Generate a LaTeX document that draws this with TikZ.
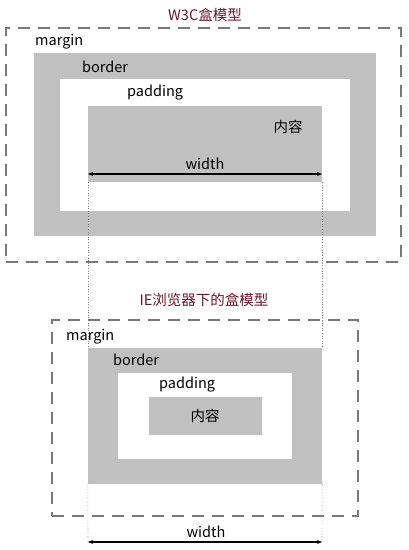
\documentclass[tikz,border=0pt]{standalone}
\usepackage{fontspec}
\setmainfont{Noto Sans CJK SC}
\usetikzlibrary{arrows.meta,fit}
\definecolor{boxgray}{RGB}{192,192,192}
\definecolor{dashgray}{RGB}{120,120,120}
\definecolor{titlered}{RGB}{110,20,40}
\begin{document}
\begin{tikzpicture}[x=1pt,y=-1pt,
 graybox/.style={fill=boxgray, draw=none, inner sep=0pt},
 whitebox/.style={fill=white, draw=none, inner sep=0pt},
 marginbox/.style={draw=dashgray, line width=1.4pt, dash pattern=on 12pt off 8pt, inner sep=0pt},
 lbl/.style={font=\fontsize{14.5}{16}\selectfont, inner sep=0pt, anchor=base west},
 ctr/.style={font=\fontsize{14.5}{16}\selectfont, inner sep=0pt},
 ttl/.style={font=\fontsize{14.5}{16}\selectfont, text=titlered, inner sep=0pt, anchor=base},
 dim/.style={{Stealth[length=5pt,width=4pt]}-{Stealth[length=5pt,width=4pt]}, line width=1.2pt},
 guide/.style={dotted, draw=gray, line width=0.6pt}]
\useasboundingbox[fill=white] (0,0) rectangle (409,550);

% ---------- W3C box model ----------
\node[ttl] (t1) at (205,20) {W3C盒模型};
\node[marginbox, fit={(6,28) (401,262)}] (margin1) {};
\node[graybox, fit={(34,53) (376,236)}] (border1) {};
\node[whitebox, fit={(60,79) (350,211)}] (padding1) {};
\node[graybox, fit={(88,106) (322,182)}] (content1) {};
\node[lbl] (lm1) at (35,45) {margin};
\node[lbl] (lb1) at (82,72) {border};
\node[lbl] (lp1) at (127,96) {padding};
\node[ctr] (lc1) at (288,127) {内容};
\node[ttl,text=black] (lw1) at (205,169) {width};
\coordinate (w1l) at (88,174);
\coordinate (w1r) at (322,174);
\draw[dim] (w1l) -- (w1r);

% ---------- IE box model ----------
\node[ttl] (t2) at (204,305) {IE浏览器下的盒模型};
\node[marginbox, fit={(52,320) (358,516)}] (margin2) {};
\node[graybox, fit={(88,348) (322,484)}] (border2) {};
\node[whitebox, fit={(118,373) (292,459)}] (padding2) {};
\node[graybox, fit={(149,397) (262,435)}] (content2) {};
\node[lbl] (lm2) at (66,340) {margin};
\node[lbl] (lb2) at (113,365) {border};
\node[lbl] (lp2) at (159,388) {padding};
\node[ctr] (lc2) at (205,416) {内容};
\node[ttl,text=black] (lw2) at (206,537) {width};
\coordinate (w2l) at (88,542);
\coordinate (w2r) at (322,542);
\draw[dim] (w2l) -- (w2r);

% ---------- guides ----------
\draw[guide] (content1.south west) -- (border2.north west);
\draw[guide] (content1.south east) -- (border2.north east);
\draw[guide] (border2.south west) -- (w2l);
\draw[guide] (border2.south east) -- (w2r);
\end{tikzpicture}
\end{document}
